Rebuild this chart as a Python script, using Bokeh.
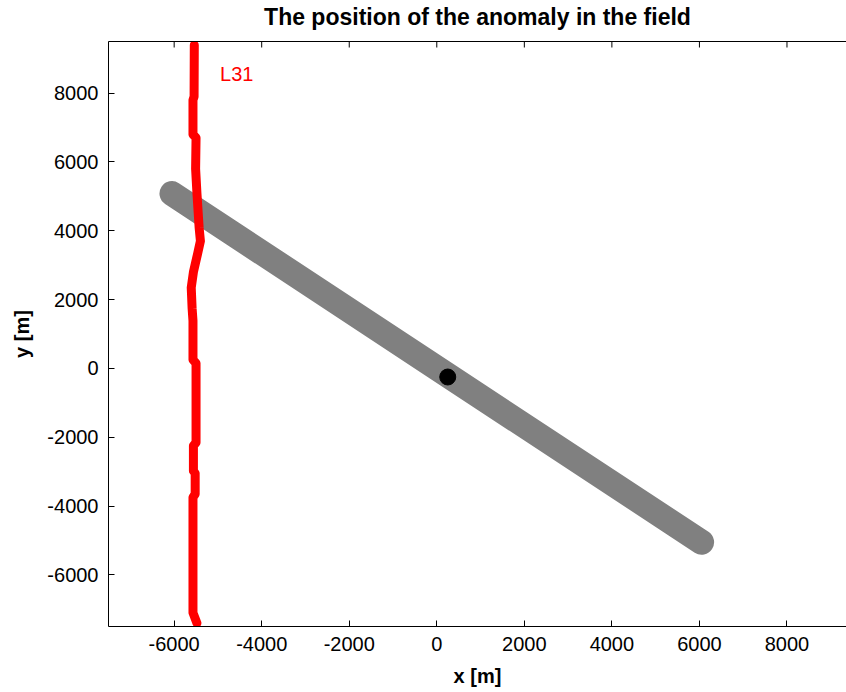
from bokeh.plotting import figure
from bokeh.models import Range1d, FixedTicker, Label, LinearAxis
from bokeh.embed import file_html
from bokeh.resources import INLINE

# Survey line L31 (red trace), metres
l31_x = [-5540, -5545, -5570, -5570, -5500, -5510, -5480, -5430, -5400, -5470,
         -5560, -5610, -5590, -5570, -5570, -5500, -5500, -5560, -5560, -5520,
         -5520, -5570, -5570, -5480]
l31_y = [9400, 7900, 7800, 6800, 6700, 5800, 5100, 4100, 3700, 3300,
         2800, 2350, 1750, 1380, 250, 150, -2150, -2250, -2980, -3050,
         -3650, -3750, -7100, -7400]

# Flight track (gray band), metres
track_x = [-6050, 250, 6050]
track_y = [5080, -200, -5050]

# Anomaly position
anomaly_x = [250]
anomaly_y = [-250]

x_ticks = [-6000, -4000, -2000, 0, 2000, 4000, 6000, 8000]
x_tick_labels = ["-6000", "-4000", "-2000", "0", "2000", "4000", "6000", "8000"]
y_ticks = [-6000, -4000, -2000, 0, 2000, 4000, 6000, 8000]
y_tick_labels = ["-6000", "-4000", "-2000", "0", "2000", "4000", "6000", "8000"]

TITLE = "The position of the anomaly in the field"

X_MIN, X_MAX = -7500, 9360
Y_MIN, Y_MAX = -7500, 9500

FONT = "Liberation Sans"

p = figure(width=846, height=692,
           x_range=Range1d(X_MIN, X_MAX), y_range=Range1d(Y_MIN, Y_MAX),
           output_backend="svg", toolbar_location=None,
           min_border_left=108, min_border_right=0,
           min_border_top=41, min_border_bottom=66)

p.background_fill_color = "white"
p.border_fill_color = "white"
p.outline_line_color = None
p.xgrid.visible = False
p.ygrid.visible = False

def style_axis(ax, ticks, labels):
    ax.ticker = FixedTicker(ticks=ticks)
    ax.major_label_overrides = {t: s for t, s in zip(ticks, labels)}
    ax.major_tick_in = 6
    ax.major_tick_out = 0
    ax.minor_tick_in = 0
    ax.minor_tick_out = 0
    ax.axis_line_color = "black"
    ax.axis_line_width = 1
    ax.major_tick_line_color = "black"
    ax.major_label_text_font = FONT
    ax.major_label_text_font_size = "20px"
    ax.major_label_text_color = "black"
    ax.axis_label_text_font = FONT
    ax.axis_label_text_font_size = "20px"
    ax.axis_label_text_font_style = "bold"
    ax.axis_label_text_color = "black"

style_axis(p.xaxis[0], x_ticks, x_tick_labels)
style_axis(p.yaxis[0], y_ticks, y_tick_labels)
p.xaxis[0].axis_label = "x [m]"
p.yaxis[0].axis_label = "y [m]"
p.xaxis[0].major_label_standoff = 10
p.xaxis[0].axis_label_standoff = 11
p.yaxis[0].major_label_standoff = 10
p.yaxis[0].axis_label_standoff = 11

# top edge of the box; its label carries the plot title
top_axis = LinearAxis(ticker=FixedTicker(ticks=[]),
                      axis_label=TITLE,
                      axis_label_text_font=FONT,
                      axis_label_text_font_size="23px",
                      axis_label_text_font_style="bold",
                      axis_label_text_color="black",
                      axis_label_standoff=12,
                      major_label_standoff=0,
                      major_tick_in=0, major_tick_out=0,
                      minor_tick_in=0, minor_tick_out=0,
                      axis_line_color="black")
p.add_layout(top_axis, "above")

# inward tick marks on the top edge (half of each dash is clipped by the frame)
p.scatter(x_ticks, [Y_MAX] * len(x_ticks), marker="dash", angle=1.5708,
          size=12, line_color="black", line_width=1)

p.line(track_x, track_y, line_color="#808080", line_width=25,
       line_cap="round", line_join="round")
p.line(l31_x, l31_y, line_color="#ff0000", line_width=9,
       line_cap="round", line_join="round")
p.scatter(anomaly_x, anomaly_y, size=16, fill_color="black", line_color="black")

p.add_layout(Label(x=-4950, y=8550, text="L31", text_color="#ff0000",
                   text_font=FONT, text_font_size="20px",
                   text_baseline="middle", text_align="left"))

open("out.html", "w").write(file_html(p, INLINE))
